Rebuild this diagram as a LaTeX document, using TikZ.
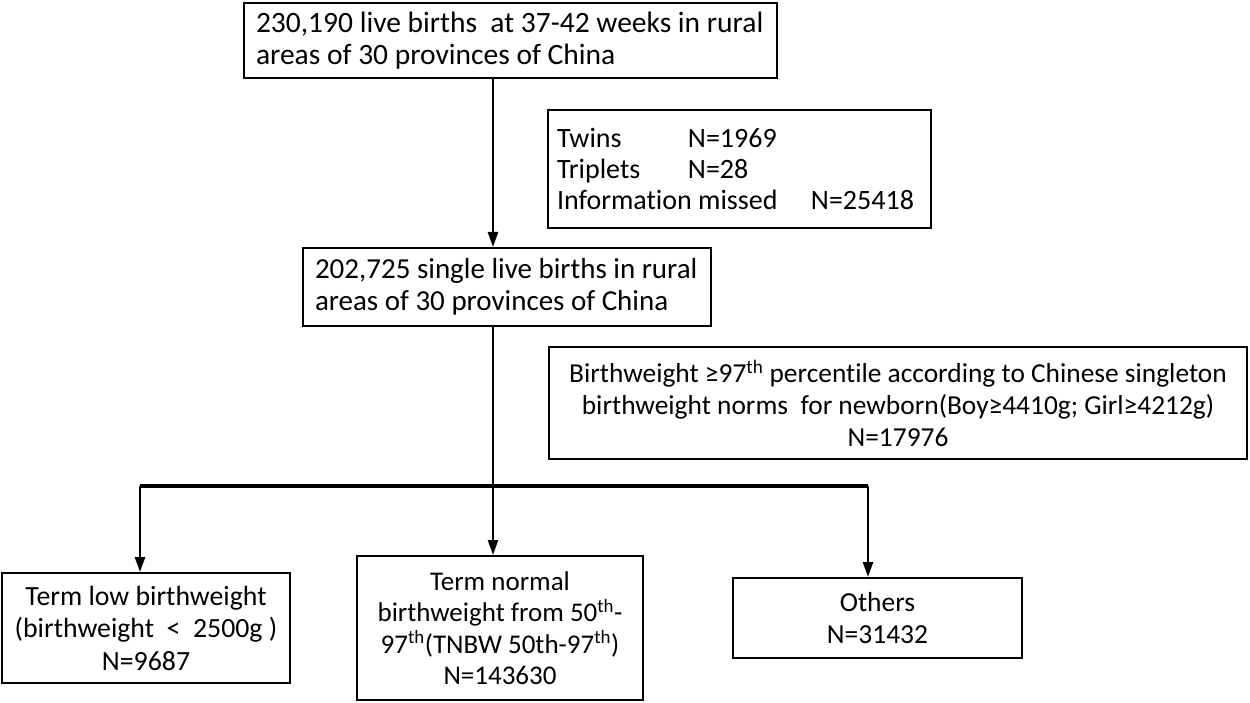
\documentclass[tikz,border=0pt]{standalone}
\usepackage{fontspec}
\setmainfont{Carlito}[Ligatures=CommonOff]
\usetikzlibrary{arrows.meta}
\begin{document}
\begin{tikzpicture}[x=1pt,y=-1pt,
  box/.style={draw, line width=2pt, inner ysep=0pt, font=\fontsize{28}{31}\selectfont},
  lbox/.style={box, align=flush left, inner xsep=12pt},
  cbox/.style={box, align=flush center, inner xsep=4pt},
  arr/.style={line width=2.5pt, -{Triangle[length=15pt,width=10pt]}},
  branch/.style={line width=3.5pt}]
\useasboundingbox (0,0) rectangle (1250,703);
\node[lbox, font=\fontsize{29.5}{32}\selectfont, text width=509pt, minimum width=533pt, minimum height=75pt] (b1) at (510.5,40.5)
  {230,190 live births\ \ at 37-42 weeks in rural\\areas of 30 provinces of China};
\node[lbox, inner xsep=9pt, text width=365pt, minimum width=383pt, minimum height=118pt] (b2) at (739.5,169)
  {\makebox[131pt][l]{Twins}N=1969\\\makebox[131pt][l]{Triplets}N=28\\\makebox[254pt][l]{Information missed}N=25418};
\node[lbox, font=\fontsize{29}{32}\selectfont, text width=384pt, minimum width=408pt, minimum height=78pt] (b3) at (507,287)
  {202,725 single live births in rural\\areas of 30 provinces of China};
\node[cbox, font=\fontsize{27.4}{32}\selectfont, text width=690pt, minimum width=698pt, minimum height=112pt] (b4) at (898,403)
  {Birthweight ≥97\textsuperscript{th} percentile according to Chinese singleton\\birthweight norms\ \ for newborn(Boy≥4410g; Girl≥4212g)\\N=17976};
\node[cbox, font=\fontsize{27.8}{32.5}\selectfont, text width=280pt, minimum width=288pt, minimum height=110pt] (lo) at (146,628)
  {Term low birthweight\\(birthweight\ \ <\ \ 2500g )\\N=9687};
\node[cbox, font=\fontsize{27}{31.5}\selectfont, text width=278pt, minimum width=286pt, minimum height=144pt] (mid) at (500,628)
  {Term normal\\birthweight from 50\textsuperscript{th}-\\97\textsuperscript{th}(TNBW 50th-97\textsuperscript{th})\\N=143630};
\node[cbox, font=\fontsize{27.5}{32}\selectfont, text width=281pt, minimum width=289pt, minimum height=80pt] (oth) at (877.5,618)
  {Others\\N=31432};
\coordinate (trunk) at (493,0);
\coordinate (bl) at (140,486);
\coordinate (br) at (868,486);
\draw[arr] (b1.south -| trunk) -- (b3.north -| trunk);
\draw[arr] (b3.south -| trunk) -- (mid.north -| trunk);
\draw[branch] (bl) -- (br);
\draw[arr] (bl) -- (lo.north -| bl);
\draw[arr] (br) -- (oth.north -| br);
\end{tikzpicture}
\end{document}
